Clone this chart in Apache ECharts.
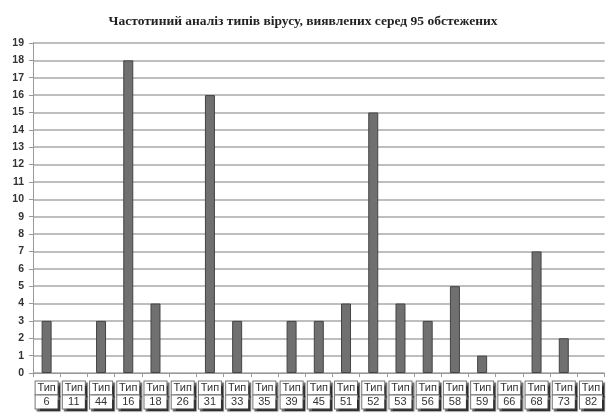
<!DOCTYPE html>
<html><head><meta charset="utf-8">
<script src="https://cdn.jsdelivr.net/npm/echarts@6/dist/echarts.min.js"></script>
<style>html,body{margin:0;padding:0;background:#fff}#c{width:606px;height:415px}</style>
</head><body><div id="c"></div>
<script>
var categories = ['6','11','44','16','18','26','31','33','35','39','45','51','52','53','56','58','59','66','68','73','82'];
var values = [3,0,3,18,4,0,16,3,0,3,3,4,15,4,3,5,1,0,7,2,0];
var yTicks = [0,1,2,3,4,5,6,7,8,9,10,11,12,13,14,15,16,17,18,19];
var titleText = 'Частотиний аналіз типів вірусу, виявлених серед 95 обстежених';
var labelPrefix = 'Тип';

var chart = echarts.init(document.getElementById('c'));
chart.setOption({
  animation: false,
  backgroundColor: '#fff',
  title: {
    text: titleText, left: 'center', top: 10,
    textStyle: {fontFamily: 'Liberation Serif', fontWeight: 'bold', fontSize: 13.5, color: '#222'}
  },
  grid: {left: 33, right: 1, top: 43, bottom: 42, containLabel: false},
  xAxis: {
    type: 'category', data: categories,
    axisLine: {show: true, lineStyle: {color: '#999', width: 1}},
    axisTick: {show: true, length: 4, lineStyle: {color: '#999'}},
    axisLabel: {
      interval: 0, margin: 8,
      formatter: function (v) { return '{b|' + labelPrefix + '\n' + v + '}'; },
      rich: {
        b: {
          fontFamily: 'Liberation Sans', fontSize: 11, color: '#333', lineHeight: 14,
          backgroundColor: '#fff', borderColor: '#777', borderWidth: 1,
          padding: [1, 1, 1, 1], width: 20, align: 'center',
          shadowColor: 'rgba(0,0,0,0.6)', shadowOffsetX: 2, shadowOffsetY: 2, shadowBlur: 1
        }
      }
    }
  },
  yAxis: {
    type: 'value', min: 0, max: 19, interval: 1,
    axisLine: {show: true, lineStyle: {color: '#999', width: 1}},
    axisTick: {show: true, length: 4, lineStyle: {color: '#999'}},
    splitLine: {show: true, lineStyle: {color: '#a8a8a8', width: 1.5}},
    axisLabel: {fontFamily: 'Liberation Sans', fontWeight: 'bold', fontSize: 10.5, color: '#333', margin: 9,
      formatter: function (v) { return yTicks.indexOf(v) >= 0 ? String(v) : ''; }}
  },
  series: [{
    type: 'bar',
    data: values.map(function (v) { return v === 0 ? {value: v, itemStyle: {borderWidth: 0, opacity: 0}} : v; }),
    barWidth: 10,
    itemStyle: {color: '#707070', borderColor: '#444', borderWidth: 1}
  }]
});
</script></body></html>
